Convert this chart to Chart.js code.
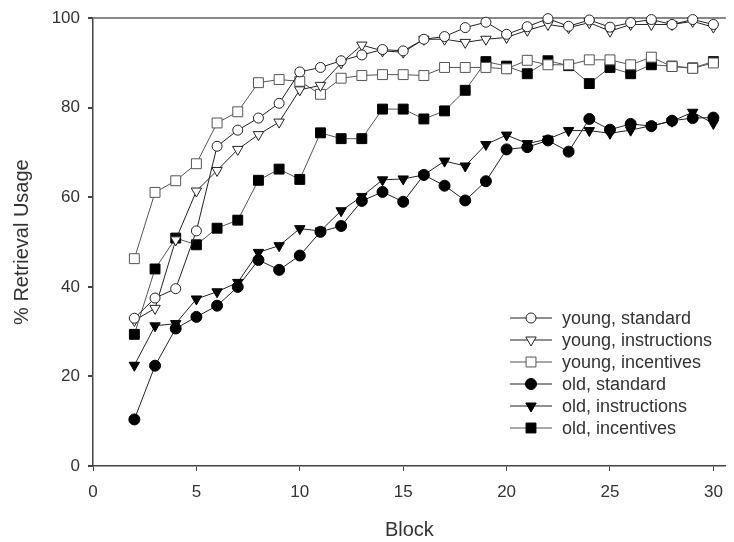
<!DOCTYPE html>
<html>
<head>
<meta charset="utf-8">
<script src="https://cdn.jsdelivr.net/npm/chart.js@4.4.1/dist/chart.umd.min.js"></script>
<style>
  body { margin: 0; background: #fff; }
  #wrap { width: 734px; height: 542px; }
</style>
</head>
<body>
<div id="wrap"><canvas id="retrievalChart"></canvas></div>
<script>
// Bloques 2..30
const blocks = [2, 3, 4, 5, 6, 7, 8, 9, 10, 11, 12, 13, 14, 15, 16, 17, 18, 19, 20, 21, 22, 23, 24, 25, 26, 27, 28, 29, 30];

const youngStandard = [33, 37.5, 39.6, 52.5, 71.4, 75, 77.7, 81, 88, 89, 90.5, 91.8, 93, 92.7, 95.3, 95.9, 97.9, 99.1, 96.4, 98.1, 99.9, 98.2, 99.6, 98, 99, 99.7, 98.6, 99.7, 98.6];
const youngInstructions = [32.5, 35.2, 50.5, 61.4, 66, 70.7, 74, 76.8, 84, 85, 90, 94, 92.7, 92.4, 95.3, 95.3, 94.6, 95.3, 95.7, 97.3, 98.6, 97.9, 99, 97.1, 98.6, 98.6, 98.6, 99.3, 98];
const youngIncentives = [46.3, 61.1, 63.7, 67.5, 76.6, 79.1, 85.6, 86.3, 85.9, 83, 86.6, 87.2, 87.4, 87.4, 87.2, 89, 89, 89, 88.7, 90.6, 89.6, 89.6, 90.7, 90.7, 89.6, 91.3, 89.2, 88.8, 90];
const oldStandard = [10.4, 22.4, 30.7, 33.3, 35.8, 40, 46, 43.8, 47, 52.3, 53.6, 59.2, 61.2, 59, 65, 62.6, 59.3, 63.6, 70.7, 71.2, 72.7, 70.2, 77.5, 75.1, 76.4, 75.9, 77.1, 77.7, 77.8];
const oldInstructions = [22.5, 31.3, 31.8, 37.3, 38.9, 41, 47.7, 49.2, 53, 52.5, 57, 60.2, 63.9, 64.1, 65, 68.1, 67, 71.8, 73.9, 72, 73, 74.9, 74.9, 74.3, 75, 76, 77, 79, 76.5];
const oldIncentives = [29.4, 44, 50.9, 49.4, 53.1, 54.9, 63.8, 66.3, 64, 74.4, 73.1, 73.1, 79.7, 79.7, 77.5, 79.3, 83.9, 90.3, 89.3, 87.6, 90.5, 89.4, 85.4, 89, 87.6, 89.6, 89.3, 88.9, 90.3];

const xTicks = [0, 5, 10, 15, 20, 25, 30];
const yTicks = [0, 20, 40, 60, 80, 100];

const FONT = "'Liberation Sans', Arial, sans-serif";
const TEXT = "#333";

const toPoints = (vals) => vals.map((v, i) => ({ x: blocks[i], y: v }));

const serie = (label, vals, style, filled, line, radius) => ({
  label: label,
  data: toPoints(vals),
  borderColor: line,
  borderWidth: 1,
  pointStyle: style,
  pointRotation: style === "triangle" ? 180 : 0,
  pointRadius: radius,
  pointHoverRadius: radius,
  pointBackgroundColor: filled ? "#000" : "#fff",
  pointBorderColor: filled ? "#000" : line,
  pointBorderWidth: 1,
  fill: false,
  tension: 0,
  clip: false,
});

const datasets = [
  serie("young, standard", youngStandard, "circle", false, "#222", 5),
  serie("young, instructions", youngInstructions, "triangle", false, "#222", 6),
  serie("young, incentives", youngIncentives, "rect", false, "#555", 7),
  serie("old, standard", oldStandard, "circle", true, "#222", 5.5),
  serie("old, instructions", oldInstructions, "triangle", true, "#222", 6),
  serie("old, incentives", oldIncentives, "rect", true, "#555", 7),
];

// Leyenda dibujada dentro del área del gráfico
const insideLegend = {
  id: "insideLegend",
  afterDraw(chart) {
    const ctx = chart.ctx;
    const left = 510, top = 318, rowH = 22;
    ctx.save();
    chart.data.datasets.forEach((ds, i) => {
      const y = top + i * rowH;
      ctx.strokeStyle = ds.borderColor;
      ctx.lineWidth = 1.2;
      ctx.beginPath();
      ctx.moveTo(left, y);
      ctx.lineTo(left + 42, y);
      ctx.stroke();
      ctx.fillStyle = ds.pointBackgroundColor;
      ctx.strokeStyle = ds.pointBorderColor;
      ctx.lineWidth = 1;
      Chart.helpers.drawPoint(ctx, {
        pointStyle: ds.pointStyle,
        radius: ds.pointRadius,
        rotation: ds.pointRotation,
        borderWidth: 1,
      }, left + 21, y);
      ctx.fillStyle = TEXT;
      ctx.font = "18px " + FONT;
      ctx.textAlign = "left";
      ctx.textBaseline = "middle";
      ctx.fillText(ds.label, left + 52, y + 1);
    });
    ctx.restore();
  },
};

const ctx = document.getElementById("retrievalChart").getContext("2d");
const retrievalChart = new Chart(ctx, {
  type: "line",
  data: { datasets: datasets },
  plugins: [insideLegend],
  options: {
    responsive: true,
    maintainAspectRatio: false,
    animation: false,
    layout: { padding: { top: 12, right: 0, left: 0, bottom: 0 } },
    plugins: {
      legend: { display: false },
      tooltip: { enabled: false },
    },
    scales: {
      x: {
        type: "linear",
        min: 0,
        max: 30.6,
        afterBuildTicks: (scale) => {
          scale.ticks = xTicks.map((v) => ({ value: v }));
        },
        afterFit: (scale) => { scale.height = 76; },
        border: { display: true, color: "#444", width: 1.5 },
        grid: { color: "transparent", tickColor: "#444", tickLength: 5, drawOnChartArea: false },
        ticks: { color: TEXT, font: { family: FONT, size: 17 }, padding: 11, maxRotation: 0 },
        title: { display: true, text: "Block", color: TEXT, font: { family: FONT, size: 20 }, padding: { top: 0, bottom: 0 } },
      },
      y: {
        min: 0,
        max: 100,
        afterBuildTicks: (scale) => {
          scale.ticks = yTicks.map((v) => ({ value: v }));
        },
        afterFit: (scale) => { scale.width = 93; },
        border: { display: true, color: "#444", width: 1.5 },
        grid: {
          color: (c) => (c.tick && c.tick.value === 100 ? "#888" : "transparent"),
          lineWidth: 2,
          tickColor: "#444",
          tickLength: 5,
        },
        ticks: { color: TEXT, font: { family: FONT, size: 17 }, padding: 8 },
        title: { display: true, text: "% Retrieval Usage", color: TEXT, font: { family: FONT, size: 20 }, padding: { top: 10, bottom: 0 } },
      },
    },
  },
});
</script>
</body>
</html>
